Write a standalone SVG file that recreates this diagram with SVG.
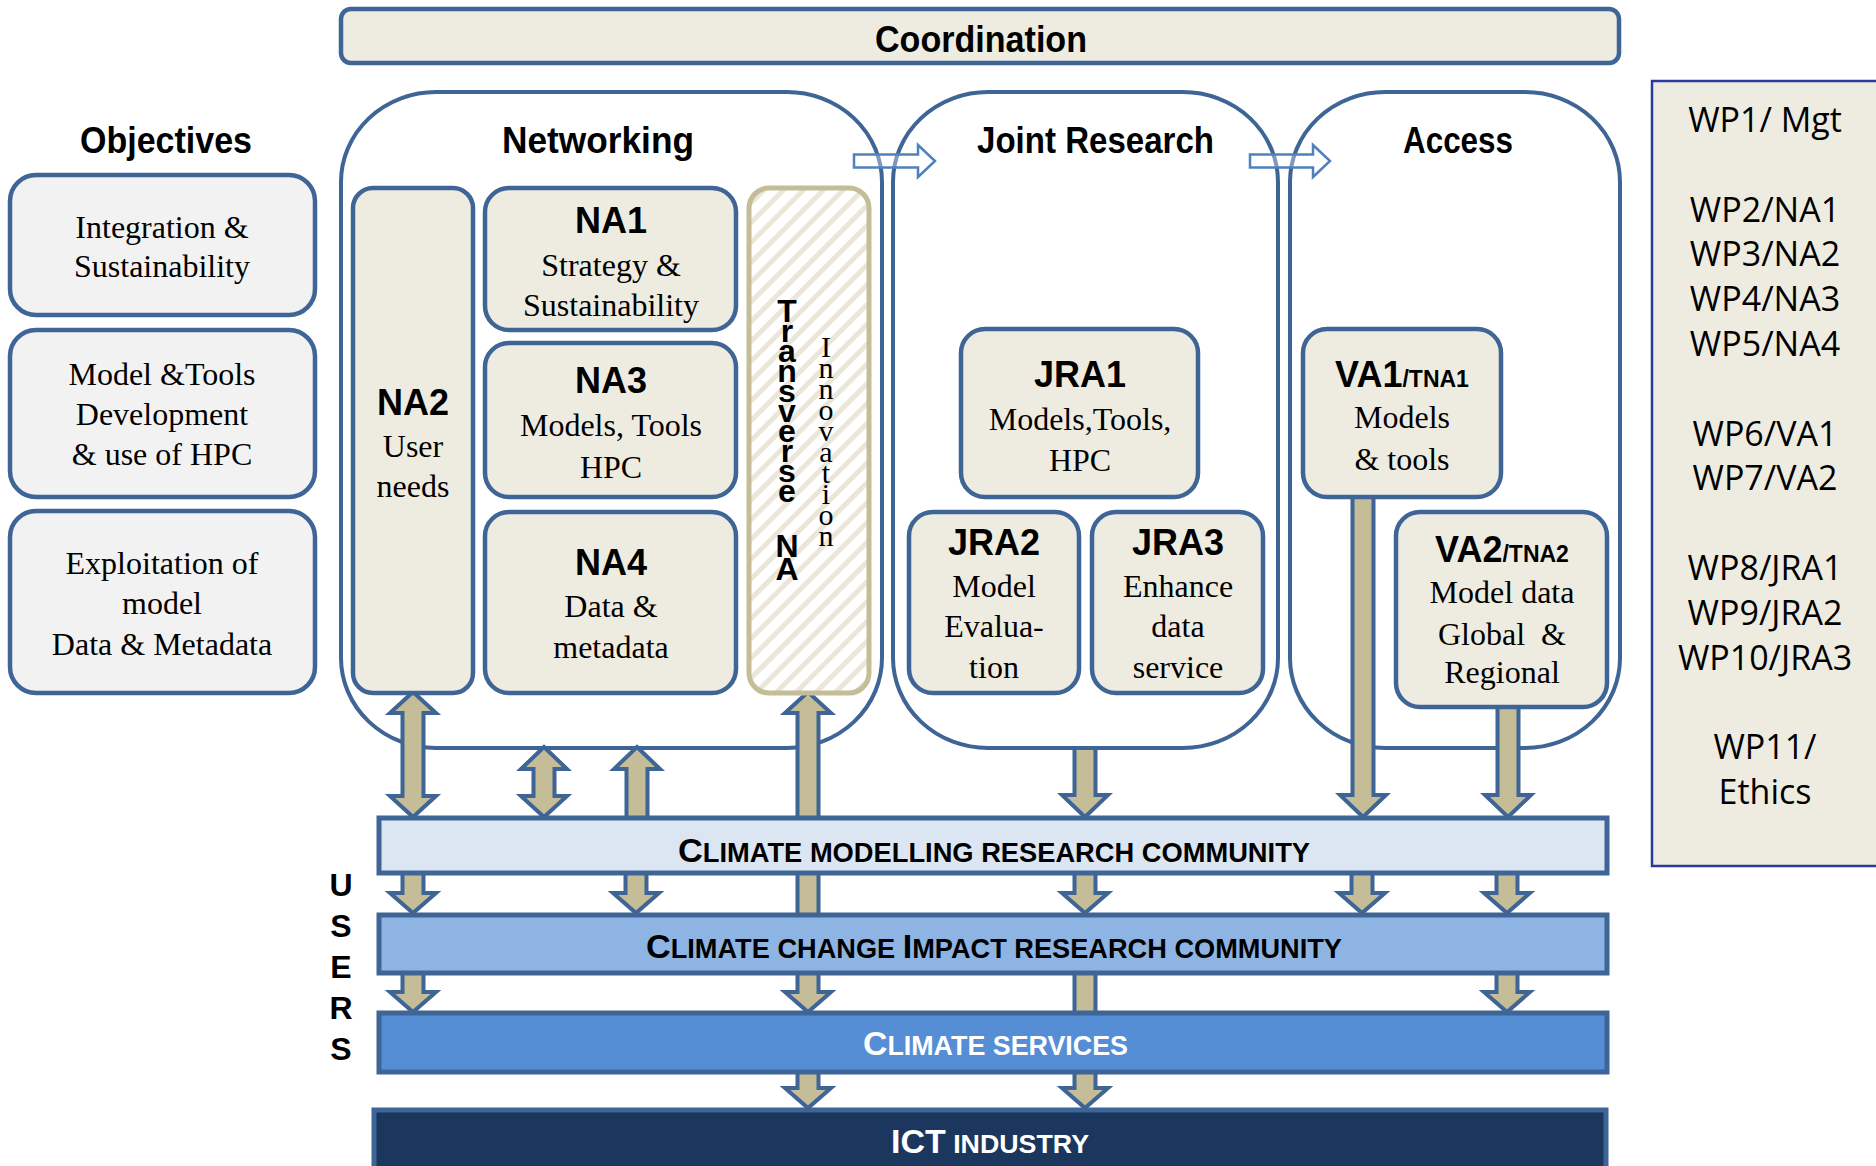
<svg xmlns="http://www.w3.org/2000/svg" width="1876" height="1166" viewBox="0 0 1876 1166">
<style>
.grp{fill:#FFFFFF;stroke:#3F6596;stroke-width:4}
.box{fill:#EEECE1;stroke:#3F6596;stroke-width:4.5}
.obj{fill:#F2F2F2;stroke:#3F6596;stroke-width:4.5}
.arr{fill:#C4BD97;stroke:#3F6596;stroke-width:4;stroke-linejoin:miter}
.harr{fill:#FFFFFF;fill-opacity:0.35;stroke:#4F81BD;stroke-width:2.5}
.band{stroke:#3F6596;stroke-width:5}
.hd{font-family:"Liberation Sans",Arial,sans-serif;font-weight:bold;font-size:37px;fill:#000}
.lbl{font-family:"Liberation Sans",Arial,sans-serif;font-weight:bold;font-size:36px;text-anchor:middle;fill:#000}
.ser{font-family:"Liberation Serif","Times New Roman",serif;font-size:32px;text-anchor:middle;fill:#000}
.wp{font-family:"Open Sans",sans-serif;font-size:34px;text-anchor:middle;fill:#000}
.bt{font-family:"Liberation Sans",Arial,sans-serif;font-weight:bold}
.vt{font-family:"Liberation Sans",Arial,sans-serif;font-weight:bold;font-size:32px;fill:#000;writing-mode:vertical-rl;text-orientation:upright;letter-spacing:-16px}
.vc{font-family:"Liberation Sans",Arial,sans-serif;font-weight:bold;font-size:32px;fill:#000;writing-mode:vertical-rl;text-orientation:upright;letter-spacing:-13px}
.vs{font-family:"Liberation Serif","Times New Roman",serif;font-size:30px;fill:#000;writing-mode:vertical-rl;text-orientation:upright;letter-spacing:-12px}
.us{font-family:"Liberation Sans",Arial,sans-serif;font-weight:bold;font-size:32px;fill:#000;writing-mode:vertical-rl;text-orientation:upright;letter-spacing:5px}
</style>
<defs>
<pattern id="stripes" patternUnits="userSpaceOnUse" width="14" height="14" patternTransform="rotate(45)">
<rect x="0" y="0" width="14" height="14" fill="#FFFFFF"/>
<rect x="0" y="0" width="5" height="14" fill="#EAE7DA"/>
</pattern>
</defs>
<rect x="0" y="0" width="1876" height="1166" fill="#FFFFFF"/>

<g id="coordination">
<rect x="341" y="9" width="1278" height="54" rx="10" class="box"/>
<text x="875" y="52" class="hd" textLength="212" lengthAdjust="spacingAndGlyphs">Coordination</text>
</g>

<g id="objectives">
<text x="80" y="153" class="hd" textLength="172" lengthAdjust="spacingAndGlyphs">Objectives</text>
</g>
<g id="obj-integration">
<rect x="10" y="175" width="305" height="140" rx="26" class="obj"/>
<text x="162" y="238" class="ser">Integration &amp;</text>
<text x="162" y="277" class="ser">Sustainability</text>
</g>
<g id="obj-model">
<rect x="10" y="330" width="305" height="167" rx="26" class="obj"/>
<text x="162" y="385" class="ser">Model &amp;Tools</text>
<text x="162" y="425" class="ser">Development</text>
<text x="162" y="465" class="ser">&amp; use of HPC</text>
</g>
<g id="obj-exploitation">
<rect x="10" y="511" width="305" height="182" rx="26" class="obj"/>
<text x="162" y="574" class="ser">Exploitation of</text>
<text x="162" y="614" class="ser">model</text>
<text x="162" y="655" class="ser">Data &amp; Metadata</text>
</g>

<g id="networking">
<rect x="341" y="92" width="541" height="656" rx="95" ry="90" class="grp"/>
<text x="502" y="153" class="hd" textLength="192" lengthAdjust="spacingAndGlyphs">Networking</text>
</g>
<g id="joint-research">
<rect x="893" y="92" width="385" height="656" rx="95" ry="90" class="grp"/>
<text x="977" y="153" class="hd" textLength="237" lengthAdjust="spacingAndGlyphs">Joint Research</text>
</g>
<g id="access">
<rect x="1290" y="92" width="330" height="656" rx="95" ry="90" class="grp"/>
<text x="1403" y="153" class="hd" textLength="110" lengthAdjust="spacingAndGlyphs">Access</text>
</g>

<g id="wp-panel">
<rect x="1652" y="81" width="240" height="785" fill="#EEECE1" stroke="#2B3A9B" stroke-width="2.5"/>
<text x="1765" y="132" class="wp">WP1/ Mgt</text>
<text x="1765" y="222" class="wp">WP2/NA1</text>
<text x="1765" y="266" class="wp">WP3/NA2</text>
<text x="1765" y="311" class="wp">WP4/NA3</text>
<text x="1765" y="356" class="wp">WP5/NA4</text>
<text x="1765" y="446" class="wp">WP6/VA1</text>
<text x="1765" y="490" class="wp">WP7/VA2</text>
<text x="1765" y="580" class="wp">WP8/JRA1</text>
<text x="1765" y="625" class="wp">WP9/JRA2</text>
<text x="1765" y="670" class="wp">WP10/JRA3</text>
<text x="1765" y="759" class="wp">WP11/</text>
<text x="1765" y="804" class="wp">Ethics</text>
</g>

<g id="connectors">
<path class="harr" d="M854,154.5 L918,154.5 L918,145 L935,161 L918,177 L918,167.5 L854,167.5 Z"/>
<path class="harr" d="M1250,154.5 L1313,154.5 L1313,145 L1330,161 L1313,177 L1313,167.5 L1250,167.5 Z"/>
<path class="arr" d="M413,692 L436,713 L423.5,713 L423.5,796 L436,796 L413,817 L390,796 L402.5,796 L402.5,713 L390,713 Z"/>
<path class="arr" d="M544,747 L567,769 L554.5,769 L554.5,796 L567,796 L544,817 L521,796 L533.5,796 L533.5,769 L521,769 Z"/>
<path class="arr" d="M637,747 L660,769 L647.5,769 L647.5,824 L626.5,824 L626.5,769 L614,769 Z"/>
<path class="arr" d="M808,692 L831,713 L818.5,713 L818.5,824 L797.5,824 L797.5,713 L785,713 Z"/>
<path class="arr" d="M1074.5,748 L1095.5,748 L1095.5,795 L1108,795 L1085,817 L1062,795 L1074.5,795 Z"/>
<path class="arr" d="M1352.5,490 L1373.5,490 L1373.5,795 L1386,795 L1363,817 L1340,795 L1352.5,795 Z"/>
<path class="arr" d="M1497.5,700 L1518.5,700 L1518.5,795 L1531,795 L1508,817 L1485,795 L1497.5,795 Z"/>
<path class="arr" d="M402.5,868 L423.5,868 L423.5,893 L436,893 L413,913 L390,893 L402.5,893 Z"/>
<path class="arr" d="M625.5,868 L646.5,868 L646.5,893 L659,893 L636,913 L613,893 L625.5,893 Z"/>
<path class="arr" d="M797.5,868 L818.5,868 L818.5,920 L797.5,920 Z"/>
<path class="arr" d="M1074.5,868 L1095.5,868 L1095.5,893 L1108,893 L1085,913 L1062,893 L1074.5,893 Z"/>
<path class="arr" d="M1351.5,868 L1372.5,868 L1372.5,893 L1385,893 L1362,913 L1339,893 L1351.5,893 Z"/>
<path class="arr" d="M1496.5,868 L1517.5,868 L1517.5,893 L1530,893 L1507,913 L1484,893 L1496.5,893 Z"/>
<path class="arr" d="M402.5,968 L423.5,968 L423.5,992 L436,992 L413,1012 L390,992 L402.5,992 Z"/>
<path class="arr" d="M797.5,968 L818.5,968 L818.5,992 L831,992 L808,1012 L785,992 L797.5,992 Z"/>
<path class="arr" d="M1074.5,968 L1095.5,968 L1095.5,1018 L1074.5,1018 Z"/>
<path class="arr" d="M1496.5,968 L1517.5,968 L1517.5,992 L1530,992 L1507,1012 L1484,992 L1496.5,992 Z"/>
<path class="arr" d="M797.5,1067 L818.5,1067 L818.5,1088 L831,1088 L808,1108 L785,1088 L797.5,1088 Z"/>
<path class="arr" d="M1074.5,1067 L1095.5,1067 L1095.5,1088 L1108,1088 L1085,1108 L1062,1088 L1074.5,1088 Z"/>
</g>

<g id="na2">
<rect x="353" y="188" width="120" height="505" rx="20" class="box"/>
<text x="413" y="415" class="lbl">NA2</text>
<text x="413" y="457" class="ser">User</text>
<text x="413" y="497" class="ser">needs</text>
</g>
<g id="na1">
<rect x="485" y="188" width="251" height="142" rx="24" class="box"/>
<text x="611" y="233" class="lbl">NA1</text>
<text x="611" y="276" class="ser">Strategy &amp;</text>
<text x="611" y="316" class="ser">Sustainability</text>
</g>
<g id="na3">
<rect x="485" y="343" width="251" height="154" rx="24" class="box"/>
<text x="611" y="393" class="lbl">NA3</text>
<text x="611" y="436" class="ser">Models, Tools</text>
<text x="611" y="478" class="ser">HPC</text>
</g>
<g id="na4">
<rect x="485" y="512" width="251" height="181" rx="24" class="box"/>
<text x="611" y="575" class="lbl">NA4</text>
<text x="611" y="617" class="ser">Data &amp;</text>
<text x="611" y="658" class="ser">metadata</text>
</g>
<g id="transverse-na">
<rect x="749" y="188" width="120" height="505" rx="20" fill="url(#stripes)" stroke="#C4BD97" stroke-width="5"/>
<text x="787" y="293" class="vt">Transverse</text>
<text x="787" y="528" class="vc">NA</text>
<text x="826" y="330" class="vs">Innovation</text>
</g>
<g id="jra1">
<rect x="961" y="329" width="237" height="168" rx="24" class="box"/>
<text x="1080" y="387" class="lbl">JRA1</text>
<text x="1080" y="430" class="ser">Models,Tools,</text>
<text x="1080" y="471" class="ser">HPC</text>
</g>
<g id="jra2">
<rect x="909" y="512" width="170" height="181" rx="24" class="box"/>
<text x="994" y="555" class="lbl">JRA2</text>
<text x="994" y="597" class="ser">Model</text>
<text x="994" y="637" class="ser">Evalua-</text>
<text x="994" y="678" class="ser">tion</text>
</g>
<g id="jra3">
<rect x="1092" y="512" width="171" height="181" rx="24" class="box"/>
<text x="1178" y="555" class="lbl">JRA3</text>
<text x="1178" y="597" class="ser">Enhance</text>
<text x="1178" y="637" class="ser">data</text>
<text x="1178" y="678" class="ser">service</text>
</g>
<g id="va1">
<rect x="1303" y="329" width="198" height="168" rx="24" class="box"/>
<text x="1402" y="387" class="lbl">VA1<tspan font-size="23">/TNA1</tspan></text>
<text x="1402" y="428" class="ser">Models</text>
<text x="1402" y="470" class="ser">&amp; tools</text>
</g>
<g id="va2">
<rect x="1396" y="512" width="211" height="195" rx="24" class="box"/>
<text x="1502" y="562" class="lbl">VA2<tspan font-size="23">/TNA2</tspan></text>
<text x="1502" y="603" class="ser">Model data</text>
<text x="1502" y="645" class="ser">Global&#160; &amp;</text>
<text x="1502" y="683" class="ser">Regional</text>
</g>

<g id="users">
<text x="341" y="867" class="us">USERS</text>
</g>

<g id="band-modelling">
<rect x="379" y="818" width="1228" height="55" fill="#DCE6F2" class="band"/>
<text x="678" y="862" class="bt" fill="#000" textLength="632" lengthAdjust="spacingAndGlyphs"><tspan font-size="34">C</tspan><tspan font-size="27">LIMATE MODELLING RESEARCH COMMUNITY</tspan></text>
</g>
<g id="band-impact">
<rect x="379" y="915" width="1228" height="58" fill="#8EB4E3" class="band"/>
<text x="646" y="958" class="bt" fill="#000" textLength="696" lengthAdjust="spacingAndGlyphs"><tspan font-size="34">C</tspan><tspan font-size="27">LIMATE CHANGE </tspan><tspan font-size="34">I</tspan><tspan font-size="27">MPACT RESEARCH COMMUNITY</tspan></text>
</g>
<g id="band-services">
<rect x="379" y="1013" width="1228" height="59" fill="#558ED5" class="band"/>
<text x="863" y="1055" class="bt" fill="#FFFFFF" textLength="265" lengthAdjust="spacingAndGlyphs"><tspan font-size="34">C</tspan><tspan font-size="27">LIMATE SERVICES</tspan></text>
</g>
<g id="band-ict">
<rect x="374" y="1110" width="1232" height="70" fill="#1B375E" class="band"/>
<text x="891" y="1153" class="bt" fill="#FFFFFF" textLength="198" lengthAdjust="spacingAndGlyphs"><tspan font-size="33">ICT</tspan><tspan font-size="26"> INDUSTRY</tspan></text>
</g>
</svg>
